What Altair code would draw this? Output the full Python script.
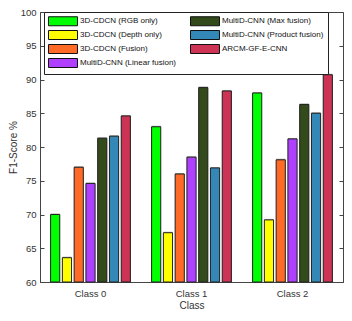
import altair as alt
import pandas as pd

classes = ["Class 0", "Class 1", "Class 2"]
methods = ["3D-CDCN (RGB only)", "3D-CDCN (Depth only)", "3D-CDCN (Fusion)",
           "MultiD-CNN (Linear fusion)", "MultiD-CNN (Max fusion)",
           "MultiD-CNN (Product fusion)", "ARCM-GF-E-CNN"]
colors = ["#00ff00", "#ffff00", "#ff6a26", "#b040ff", "#334a1a", "#3388b8", "#cc3355"]
values = {
    "3D-CDCN (RGB only)": [70.0, 83.0, 88.0],
    "3D-CDCN (Depth only)": [63.6, 67.3, 69.2],
    "3D-CDCN (Fusion)": [77.0, 76.0, 78.1],
    "MultiD-CNN (Linear fusion)": [74.6, 78.5, 81.2],
    "MultiD-CNN (Max fusion)": [81.3, 88.8, 86.3],
    "MultiD-CNN (Product fusion)": [81.6, 76.9, 85.0],
    "ARCM-GF-E-CNN": [84.6, 88.3, 90.7],
}
y_ticks = [60, 65, 70, 75, 80, 85, 90, 95, 100]

rows = []
for m in methods:
    for c, v in zip(classes, values[m]):
        rows.append({"Class": c, "Method": m, "Value": v})
df = pd.DataFrame(rows)

W, H = 303, 270
font = "Liberation Sans"

x_enc = alt.X("Class:N", sort=classes,
              scale=alt.Scale(paddingInner=0, paddingOuter=0),
              axis=alt.Axis(title="Class", labelAngle=0, ticks=False, grid=True,
                            bandPosition=0.5,
                            gridDash=[4, H - 8, 4], gridColor="#444444", gridOpacity=1,
                            labelPadding=6, titlePadding=3))
xoff_enc = alt.XOffset("Method:N", sort=methods,
                       scale=alt.Scale(paddingInner=0.22, paddingOuter=0.9))
y_enc = alt.Y("Value:Q", scale=alt.Scale(domain=[60, 100], nice=False, zero=False),
              axis=alt.Axis(title="F1-Score %", values=y_ticks, ticks=False, grid=True,
                            gridDash=[4, W - 8, 4], gridColor="#444444", gridOpacity=1,
                            labelPadding=4, titlePadding=2))

base = alt.Chart(df)

shadow = base.mark_bar(color="#aaaaaa", xOffset=1, yOffset=-1).encode(
    x=x_enc, xOffset=xoff_enc, y=y_enc, y2=alt.datum(60),
)

bars = base.mark_bar(stroke="#222222", strokeWidth=1).encode(
    x=x_enc, xOffset=xoff_enc, y=y_enc, y2=alt.datum(60),
    color=alt.Color("Method:N",
                    scale=alt.Scale(domain=methods, range=colors),
                    legend=alt.Legend(
                        title=None, orient="none", legendX=4, legendY=0,
                        columns=2, columnPadding=11, rowPadding=0,
                        symbolType="M-1,-1H5.444V1H-1Z", symbolSize=81,
                        symbolStrokeColor="#111111", symbolStrokeWidth=1,
                        symbolOpacity=1,
                        labelFont=font, labelFontSize=8, labelColor="#111111",
                        labelOffset=22, labelLimit=200,
                        padding=4, strokeColor="#222222", fillColor="white",
                    )),
)

chart = alt.layer(shadow, bars).properties(
    width=W, height=H,
    autosize=alt.AutoSizeParams(type="none"),
    padding={"left": 32, "top": 4, "right": 1, "bottom": 31},
).configure_view(
    stroke="#444444", strokeWidth=1
).configure_axis(
    domainColor="#444444", labelFont=font, titleFont=font,
    labelFontSize=9.5, titleFontSize=10, labelColor="#333333",
    titleColor="#333333", titleFontWeight="normal"
)

chart.save("out.html", embed_options={"renderer": "svg", "actions": False})
